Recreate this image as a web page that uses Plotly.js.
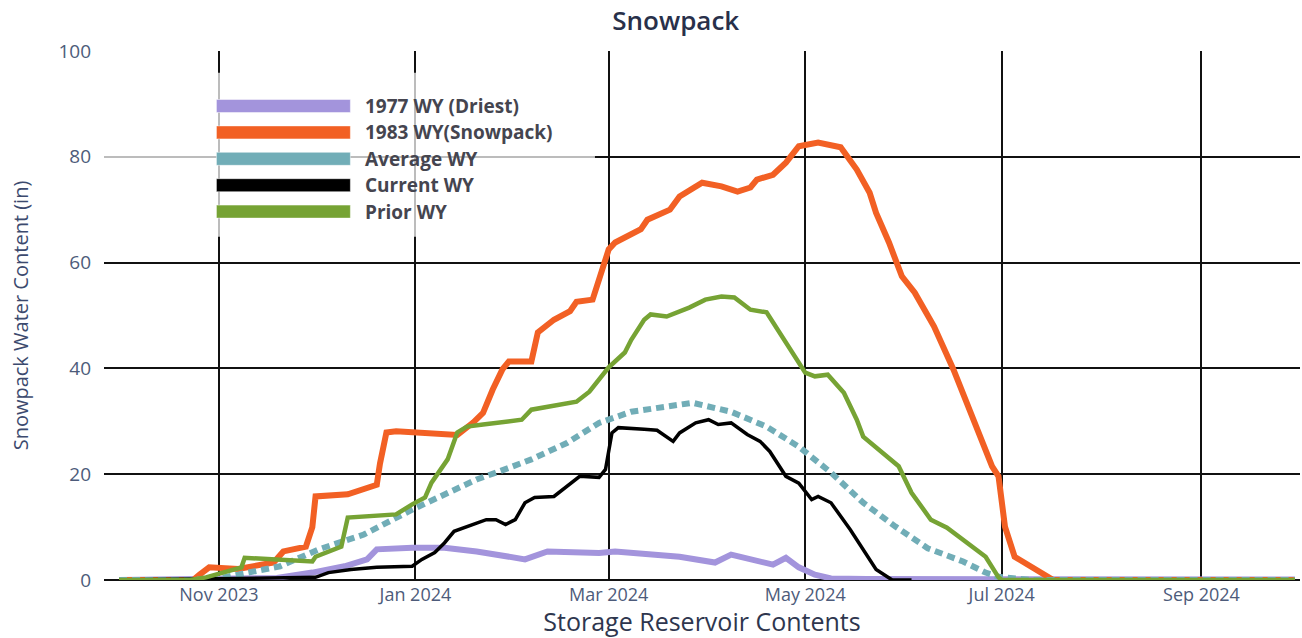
<!DOCTYPE html>
<html><head><meta charset="utf-8">
<script src="https://cdn.plot.ly/plotly-3.0.1.min.js"></script>
<style>html,body{margin:0;padding:0;background:#fff;} #chart{width:1302px;height:638px;}</style>
</head><body><div id="chart"></div>
<script>
// ---- data ----
const seriesNames = ['1977 WY (Driest)', '1983 WY(Snowpack)', 'Average WY', 'Current WY', 'Prior WY'];
const seriesColors = ['#a394dc', '#f26024', '#71adb7', '#000000', '#76a334'];

const dates1977 = ['2023-10-01','2023-11-19','2023-11-30','2023-12-10','2023-12-17','2023-12-20','2023-12-31','2024-01-10','2024-01-20','2024-01-30','2024-02-04','2024-02-11','2024-02-27','2024-03-03','2024-03-13','2024-03-23','2024-04-03','2024-04-08','2024-04-21','2024-04-25','2024-04-29','2024-05-04','2024-05-09','2024-05-20','2024-09-30'];
const values1977 = [0,0.4,1.4,2.6,3.9,5.8,6.1,6.1,5.4,4.4,3.9,5.4,5.1,5.4,4.8,4.4,3.3,4.8,2.9,4.2,2.4,1.0,0.3,0.2,0.1];

const dates1983 = ['2023-10-01','2023-10-24','2023-10-26','2023-10-29','2023-11-07','2023-11-18','2023-11-21','2023-11-28','2023-11-30','2023-12-01','2023-12-11','2023-12-20','2023-12-21','2023-12-23','2023-12-26','2024-01-01','2024-01-08','2024-01-14','2024-01-19','2024-01-22','2024-01-25','2024-01-28','2024-01-30','2024-02-06','2024-02-08','2024-02-13','2024-02-18','2024-02-20','2024-02-25','2024-02-27','2024-03-01','2024-03-03','2024-03-11','2024-03-13','2024-03-20','2024-03-23','2024-03-30','2024-04-05','2024-04-10','2024-04-14','2024-04-16','2024-04-21','2024-04-25','2024-04-29','2024-05-05','2024-05-12','2024-05-14','2024-05-17','2024-05-21','2024-05-23','2024-05-27','2024-05-31','2024-06-04','2024-06-10','2024-06-16','2024-06-22','2024-06-28','2024-06-30','2024-07-01','2024-07-02','2024-07-05','2024-07-10','2024-07-17','2024-09-30'];
const values1983 = [0,0,1.0,2.4,2.1,3.3,5.4,6.3,10,15.8,16.2,18,22,27.9,28.1,27.9,27.6,27.4,29.8,31.6,36,39.8,41.3,41.3,46.8,49.2,50.8,52.6,53,56.8,62.5,63.8,66.3,68.1,70,72.5,75.1,74.4,73.4,74.2,75.7,76.6,78.9,82,82.7,81.8,80,77.6,73.2,69.4,63.8,57.4,54.3,47.9,39.8,30.9,21.5,19.6,15,10.1,4.4,2.6,0,0];

const datesAverage = ['2023-10-01','2023-10-23','2023-11-01','2023-11-11','2023-11-20','2023-12-02','2023-12-16','2023-12-31','2024-01-20','2024-01-26','2024-02-06','2024-02-17','2024-02-27','2024-03-08','2024-03-19','2024-03-27','2024-04-08','2024-04-19','2024-04-29','2024-05-09','2024-05-19','2024-05-29','2024-06-08','2024-06-19','2024-06-26','2024-06-30','2024-07-10','2024-09-30'];
const valuesAverage = [0,0,0.3,1.4,2.6,5.8,8.6,13.3,19,20.3,22.8,25.9,29.7,31.8,32.8,33.5,31.8,29,25.2,20.3,14.6,10.1,6,3.5,1.4,0.6,0,0];

const datesCurrent = ['2023-10-01','2023-12-01','2023-12-05','2023-12-12','2023-12-20','2023-12-31','2024-01-03','2024-01-07','2024-01-10','2024-01-13','2024-01-23','2024-01-26','2024-01-29','2024-02-01','2024-02-04','2024-02-07','2024-02-13','2024-02-18','2024-02-21','2024-02-27','2024-02-29','2024-03-02','2024-03-04','2024-03-12','2024-03-16','2024-03-21','2024-03-23','2024-03-28','2024-04-01','2024-04-04','2024-04-08','2024-04-13','2024-04-17','2024-04-20','2024-04-25','2024-04-29','2024-05-03','2024-05-05','2024-05-09','2024-05-15','2024-05-19','2024-05-23','2024-05-28','2024-06-03'];
const valuesCurrent = [0,0.5,1.4,2,2.4,2.6,3.9,5.2,7,9.2,11.4,11.4,10.5,11.4,14.6,15.6,15.8,18.3,19.6,19.4,20.9,27.8,28.8,28.5,28.3,26.2,27.8,29.7,30.3,29.4,29.7,27.5,26.2,24.3,19.6,18.3,15.2,15.8,14.6,9.5,5.8,2,0,0];

const datesPrior = ['2023-10-01','2023-10-23','2023-10-28','2023-11-02','2023-11-08','2023-11-09','2023-11-19','2023-11-30','2023-12-01','2023-12-09','2023-12-11','2023-12-17','2023-12-26','2023-12-31','2024-01-04','2024-01-06','2024-01-08','2024-01-11','2024-01-14','2024-01-17','2024-01-22','2024-02-03','2024-02-06','2024-02-12','2024-02-20','2024-02-24','2024-03-01','2024-03-06','2024-03-08','2024-03-12','2024-03-14','2024-03-19','2024-03-26','2024-03-31','2024-04-05','2024-04-09','2024-04-14','2024-04-19','2024-04-23','2024-05-01','2024-05-04','2024-05-08','2024-05-13','2024-05-17','2024-05-19','2024-05-30','2024-06-03','2024-06-09','2024-06-14','2024-06-20','2024-06-26','2024-06-30','2024-07-01','2024-09-30'];
const valuesPrior = [0,0,0.5,1.4,2.4,4.2,3.9,3.5,4.4,6.3,11.8,12,12.4,14.3,15.6,18.4,20.3,22.8,27.9,29,29.4,30.3,32.2,32.8,33.7,35.6,40.2,43,45.4,49.2,50.2,49.8,51.5,53,53.6,53.4,51.1,50.6,46.8,39.2,38.5,38.8,35.4,30.3,27.1,21.5,16.5,11.4,9.9,7.1,4.4,0.5,0,0];

const xTickVals = ['2023-11-01','2024-01-01','2024-03-01','2024-05-01','2024-07-01','2024-09-01'];
const xTickText = ['Nov 2023','Jan 2024','Mar 2024','May 2024','Jul 2024','Sep 2024'];
const yTickVals = [0,20,40,60,80,100];

// ---- chart ----
const allDates = [dates1977, dates1983, datesAverage, datesCurrent, datesPrior];
const allValues = [values1977, values1983, valuesAverage, valuesCurrent, valuesPrior];
const lineStyles = [
  {width: 6},
  {width: 6},
  {width: 6, dash: '8px,5px'},
  {width: 3.5},
  {width: 4.5}
];

const traces = seriesNames.map((name, i) => ({
  type: 'scatter', mode: 'lines', name: name,
  x: allDates[i], y: allValues[i],
  line: Object.assign({color: seriesColors[i], shape: 'linear'}, lineStyles[i]),
  showlegend: false, hoverinfo: 'x+y+name'
}));

// custom legend (long bars like the reference)
const legendX0 = 0.094, legendX1 = 0.206, legendTextX = 0.2166;
const legendYTop = 0.896, legendStep = 0.0499, barHalf = 0.0123;
const shapes = [{
  type: 'rect', xref: 'paper', yref: 'paper', x0: 0, x1: 0.4105, y0: 0.649, y1: 0.959,
  fillcolor: 'rgba(255,255,255,0.72)', line: {width: 0}, layer: 'above'
}];
const annotations = [];
seriesNames.forEach((name, i) => {
  const yc = legendYTop - i * legendStep;
  shapes.push({type: 'rect', xref: 'paper', yref: 'paper', x0: legendX0, x1: legendX1,
    y0: yc - barHalf, y1: yc + barHalf, fillcolor: seriesColors[i],
    line: {width: 0.8, color: 'rgba(255,255,255,0.6)'}, layer: 'above'});
  annotations.push({xref: 'paper', yref: 'paper', x: legendTextX, y: yc, xanchor: 'left', yanchor: 'middle',
    text: name, showarrow: false,
    font: {family: 'Open Sans, sans-serif', size: 19, weight: 700, color: '#45454f'}});
});

const layout = {
  width: 1302, height: 638,
  margin: {l: 104, r: 2, t: 51, b: 58},
  paper_bgcolor: '#ffffff', plot_bgcolor: '#ffffff',
  showlegend: false,
  title: {text: 'Snowpack', x: 0.519, xref: 'container', xanchor: 'center', y: 0.968, yref: 'container', yanchor: 'middle',
    font: {family: 'Open Sans, sans-serif', size: 26, weight: 600, color: '#28304a'}},
  xaxis: {
    type: 'date', range: ['2023-09-26 08:00', '2024-10-01 14:00'],
    tickmode: 'array', tickvals: xTickVals, ticktext: xTickText,
    showgrid: true, gridcolor: '#111111', gridwidth: 1.6,
    zeroline: false, showline: false, ticks: '', ticklabelstandoff: 2,
    tickfont: {family: 'Open Sans, sans-serif', size: 18, color: '#4d5b7a'},
    title: {text: 'Storage Reservoir Contents', standoff: 6,
      font: {family: 'Open Sans, sans-serif', size: 25, color: '#2e364e'}}
  },
  yaxis: {
    range: [0, 100], tickmode: 'array', tickvals: yTickVals,
    showgrid: true, gridcolor: '#111111', gridwidth: 1.6,
    zeroline: true, zerolinecolor: '#111111', zerolinewidth: 1.6,
    showline: false, ticks: '', ticklabelstandoff: 12,
    tickfont: {family: 'Open Sans, sans-serif', size: 19, color: '#4d5b7a'},
    title: {text: 'Snowpack Water Content (in)', standoff: 24,
      font: {family: 'Open Sans, sans-serif', size: 20, color: '#3c4a6e'}}
  },
  shapes: shapes,
  annotations: annotations
};

Plotly.newPlot('chart', traces, layout, {displayModeBar: false});
</script></body></html>
